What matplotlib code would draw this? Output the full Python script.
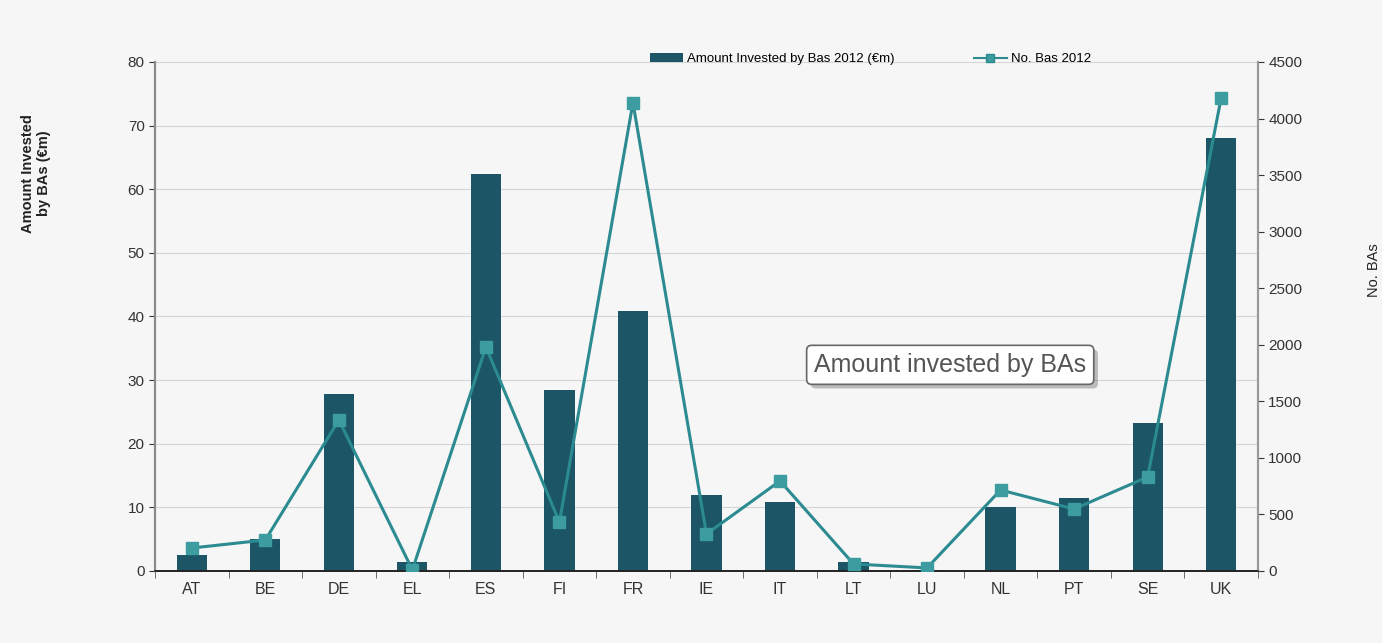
import numpy as np
from matplotlib import pyplot as plt
from matplotlib import patheffects
from matplotlib.lines import Line2D
from matplotlib.patches import Patch

plt.rcParams['font.family'] = ['Liberation Sans', 'DejaVu Sans']

countries = ['AT', 'BE', 'DE', 'EL', 'ES', 'FI', 'FR', 'IE', 'IT', 'LT', 'LU',
             'NL', 'PT', 'SE', 'UK']
amount_invested = [2.5, 5.0, 27.8, 1.4, 62.4, 28.5, 40.8, 12.0, 10.8, 1.4, 0.2,
                   10.0, 11.5, 23.3, 68.0]
no_bas = [203, 274, 1335, 10, 1980, 433, 4140, 327, 796, 62, 27,
          716, 548, 831, 4182]

BAR_COLOR = '#1b5566'
LINE_COLOR = '#2b8b90'
MARKER_COLOR = '#3c9ca0'
BG = '#f6f6f6'

fig = plt.figure(figsize=(13.82, 6.43), dpi=100, facecolor=BG)
ax = fig.add_axes([0.1122, 0.112, 0.798, 0.7916])
ax.set_facecolor(BG)
ax2 = ax.twinx()

x = np.arange(len(countries))
ax.bar(x, amount_invested, width=0.41, color=BAR_COLOR, zorder=2)
ax.set_xlim(-0.5, len(countries) - 0.5)
ax.set_ylim(0, 80)
ax.set_yticks(range(0, 81, 10))
ax.grid(axis='y', color='#d4d4d4', linewidth=0.8, zorder=0)
ax.set_axisbelow(True)

ax2.plot(x, no_bas, color=LINE_COLOR, linewidth=2.2, marker='s',
         markersize=9, markerfacecolor=MARKER_COLOR,
         markeredgecolor=MARKER_COLOR, zorder=3)
ax2.set_ylim(0, 4500)
ax2.set_yticks(range(0, 4501, 500))

# x ticks: labels at centres, tick marks between categories
ax.set_xticks(x)
ax.set_xticklabels(countries, fontsize=11.5, color='#333333')
ax.tick_params(axis='x', length=0, pad=8)
ax.set_xticks(np.arange(-0.5, len(countries), 1), minor=True)
ax.tick_params(axis='x', which='minor', length=5, color='#555555')

ax.tick_params(axis='y', labelsize=11, colors='#333333', length=4)
ax2.tick_params(axis='y', labelsize=11, colors='#333333', length=4)

for a in (ax, ax2):
    a.spines['top'].set_visible(False)
    a.spines['left'].set_color('#888888')
    a.spines['right'].set_color('#999999')
    a.spines['bottom'].set_color('#222222')
    a.spines['left'].set_linewidth(1.5)
    a.spines['right'].set_linewidth(1.5)
    a.spines['bottom'].set_linewidth(1.2)

fig.text(0.026, 0.73, 'Amount Invested\nby BAs (€m)', rotation=90,
         ha='center', va='center', fontsize=10.5, fontweight='bold',
         color='#222222', multialignment='center')
fig.text(0.994, 0.58, 'No. BAs', rotation=90, ha='center', va='center',
         fontsize=10.5, color='#222222')

handles = [Patch(facecolor=BAR_COLOR, label='Amount Invested by Bas 2012 (€m)'),
           Line2D([], [], color=LINE_COLOR, marker='s', markersize=6,
                  markerfacecolor=MARKER_COLOR, label='No. Bas 2012')]
fig.legend(handles=handles, loc='center', bbox_to_anchor=(0.63, 0.908),
           ncol=2, frameon=False, fontsize=9.5, columnspacing=6,
           handlelength=2.5, handletextpad=0.3)

note = ax.text(0.721, 0.405, 'Amount invested by BAs', transform=ax.transAxes,
               ha='center', va='center', fontsize=18, color='#555555',
               zorder=5,
               bbox=dict(boxstyle='round,pad=0.3,rounding_size=0.2',
                         facecolor='white', edgecolor='#666666',
                         linewidth=1.2))
note.get_bbox_patch().set_path_effects(
    [patheffects.withSimplePatchShadow(offset=(3, -3), alpha=0.35)])

fig.savefig('out.png', dpi=100, facecolor=BG)
